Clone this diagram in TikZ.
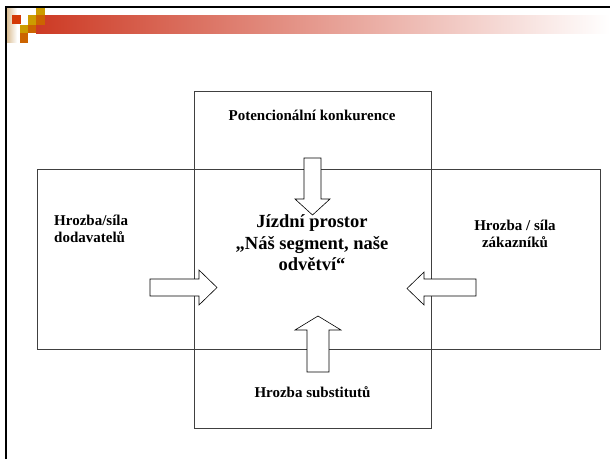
\documentclass[tikz,border=0pt]{standalone}
\usepackage{fontspec}
\setmainfont{Liberation Serif}
\definecolor{barred}{HTML}{CD3A24}
\definecolor{barpink}{HTML}{E3A6A4}
\definecolor{sqred}{HTML}{D43A08}
\definecolor{sqgold}{HTML}{CC9C00}
\definecolor{sqorange}{HTML}{CC6400}
\definecolor{tan}{HTML}{D8B98C}
\definecolor{boxline}{HTML}{404040}
\tikzset{
  lbl/.style={font=\bfseries\fontsize{15}{17}\selectfont, inner sep=0pt},
  mainlbl/.style={font=\bfseries\fontsize{18.5}{21.5}\selectfont, inner sep=0pt, align=center},
  region/.style={draw=boxline, line width=0.8pt},
  blockarrow/.style={draw=black, fill=white, line width=0.6pt, line join=miter},
  sq/.style={line width=0pt}
}
\begin{document}
\begin{tikzpicture}[x=1pt,y=-1pt]
\useasboundingbox (0,0) rectangle (610,459);
% header decoration
\shade[left color=tan, right color=white] (6,8) rectangle (17,42);
\shade[left color=barred, middle color=barpink, right color=white] (36,15) rectangle (610,33);
\fill[sqred] (12,15) rectangle (20.5,24);
\fill[sqgold] (36,7) rectangle (44.7,15);
\fill[sqgold] (28,15) rectangle (36,25);
\fill[sqorange] (36,15) rectangle (44.7,25);
\fill[sqgold] (20,25) rectangle (28,33.3);
\fill[sqorange] (28,25) rectangle (36,33.3);
\fill[sqorange] (20,33.3) rectangle (28,42.7);
% slide frame
\draw[line width=2pt] (5.5,459) -- (5.5,7) -- (610,7);
% regions
\draw[region] (194,91) rectangle (431,428);
\draw[region] (37,169) rectangle (600,349);
% block arrows
\draw[blockarrow] (304,158) -- (321,158) -- (321,199) -- (330,199) -- (312.5,215) -- (295,199) -- (304,199) -- cycle;
\draw[blockarrow] (307,372) -- (329,372) -- (329,330) -- (341,330) -- (318,316) -- (295,330) -- (307,330) -- cycle;
\draw[blockarrow] (150,279) -- (199,279) -- (199,270) -- (217,287.5) -- (199,305) -- (199,296) -- (150,296) -- cycle;
\draw[blockarrow] (476,279) -- (424,279) -- (424,272) -- (407,288.5) -- (424,305) -- (424,296) -- (476,296) -- cycle;
% texts
\node[lbl] (pk) at (312,115) {Potencionální konkurence};
\node[mainlbl] (jp) at (312,243) {Jízdní prostor\\„Náš segment, naše\\odvětví“};
\node[lbl, align=left, anchor=west] (hd) at (54,229) {Hrozba/síla\\dodavatelů};
\node[lbl, align=center] (hz) at (515,233.5) {Hrozba / síla\\zákazníků};
\node[lbl] (hs) at (312.5,392) {Hrozba substitutů};
\end{tikzpicture}
\end{document}
